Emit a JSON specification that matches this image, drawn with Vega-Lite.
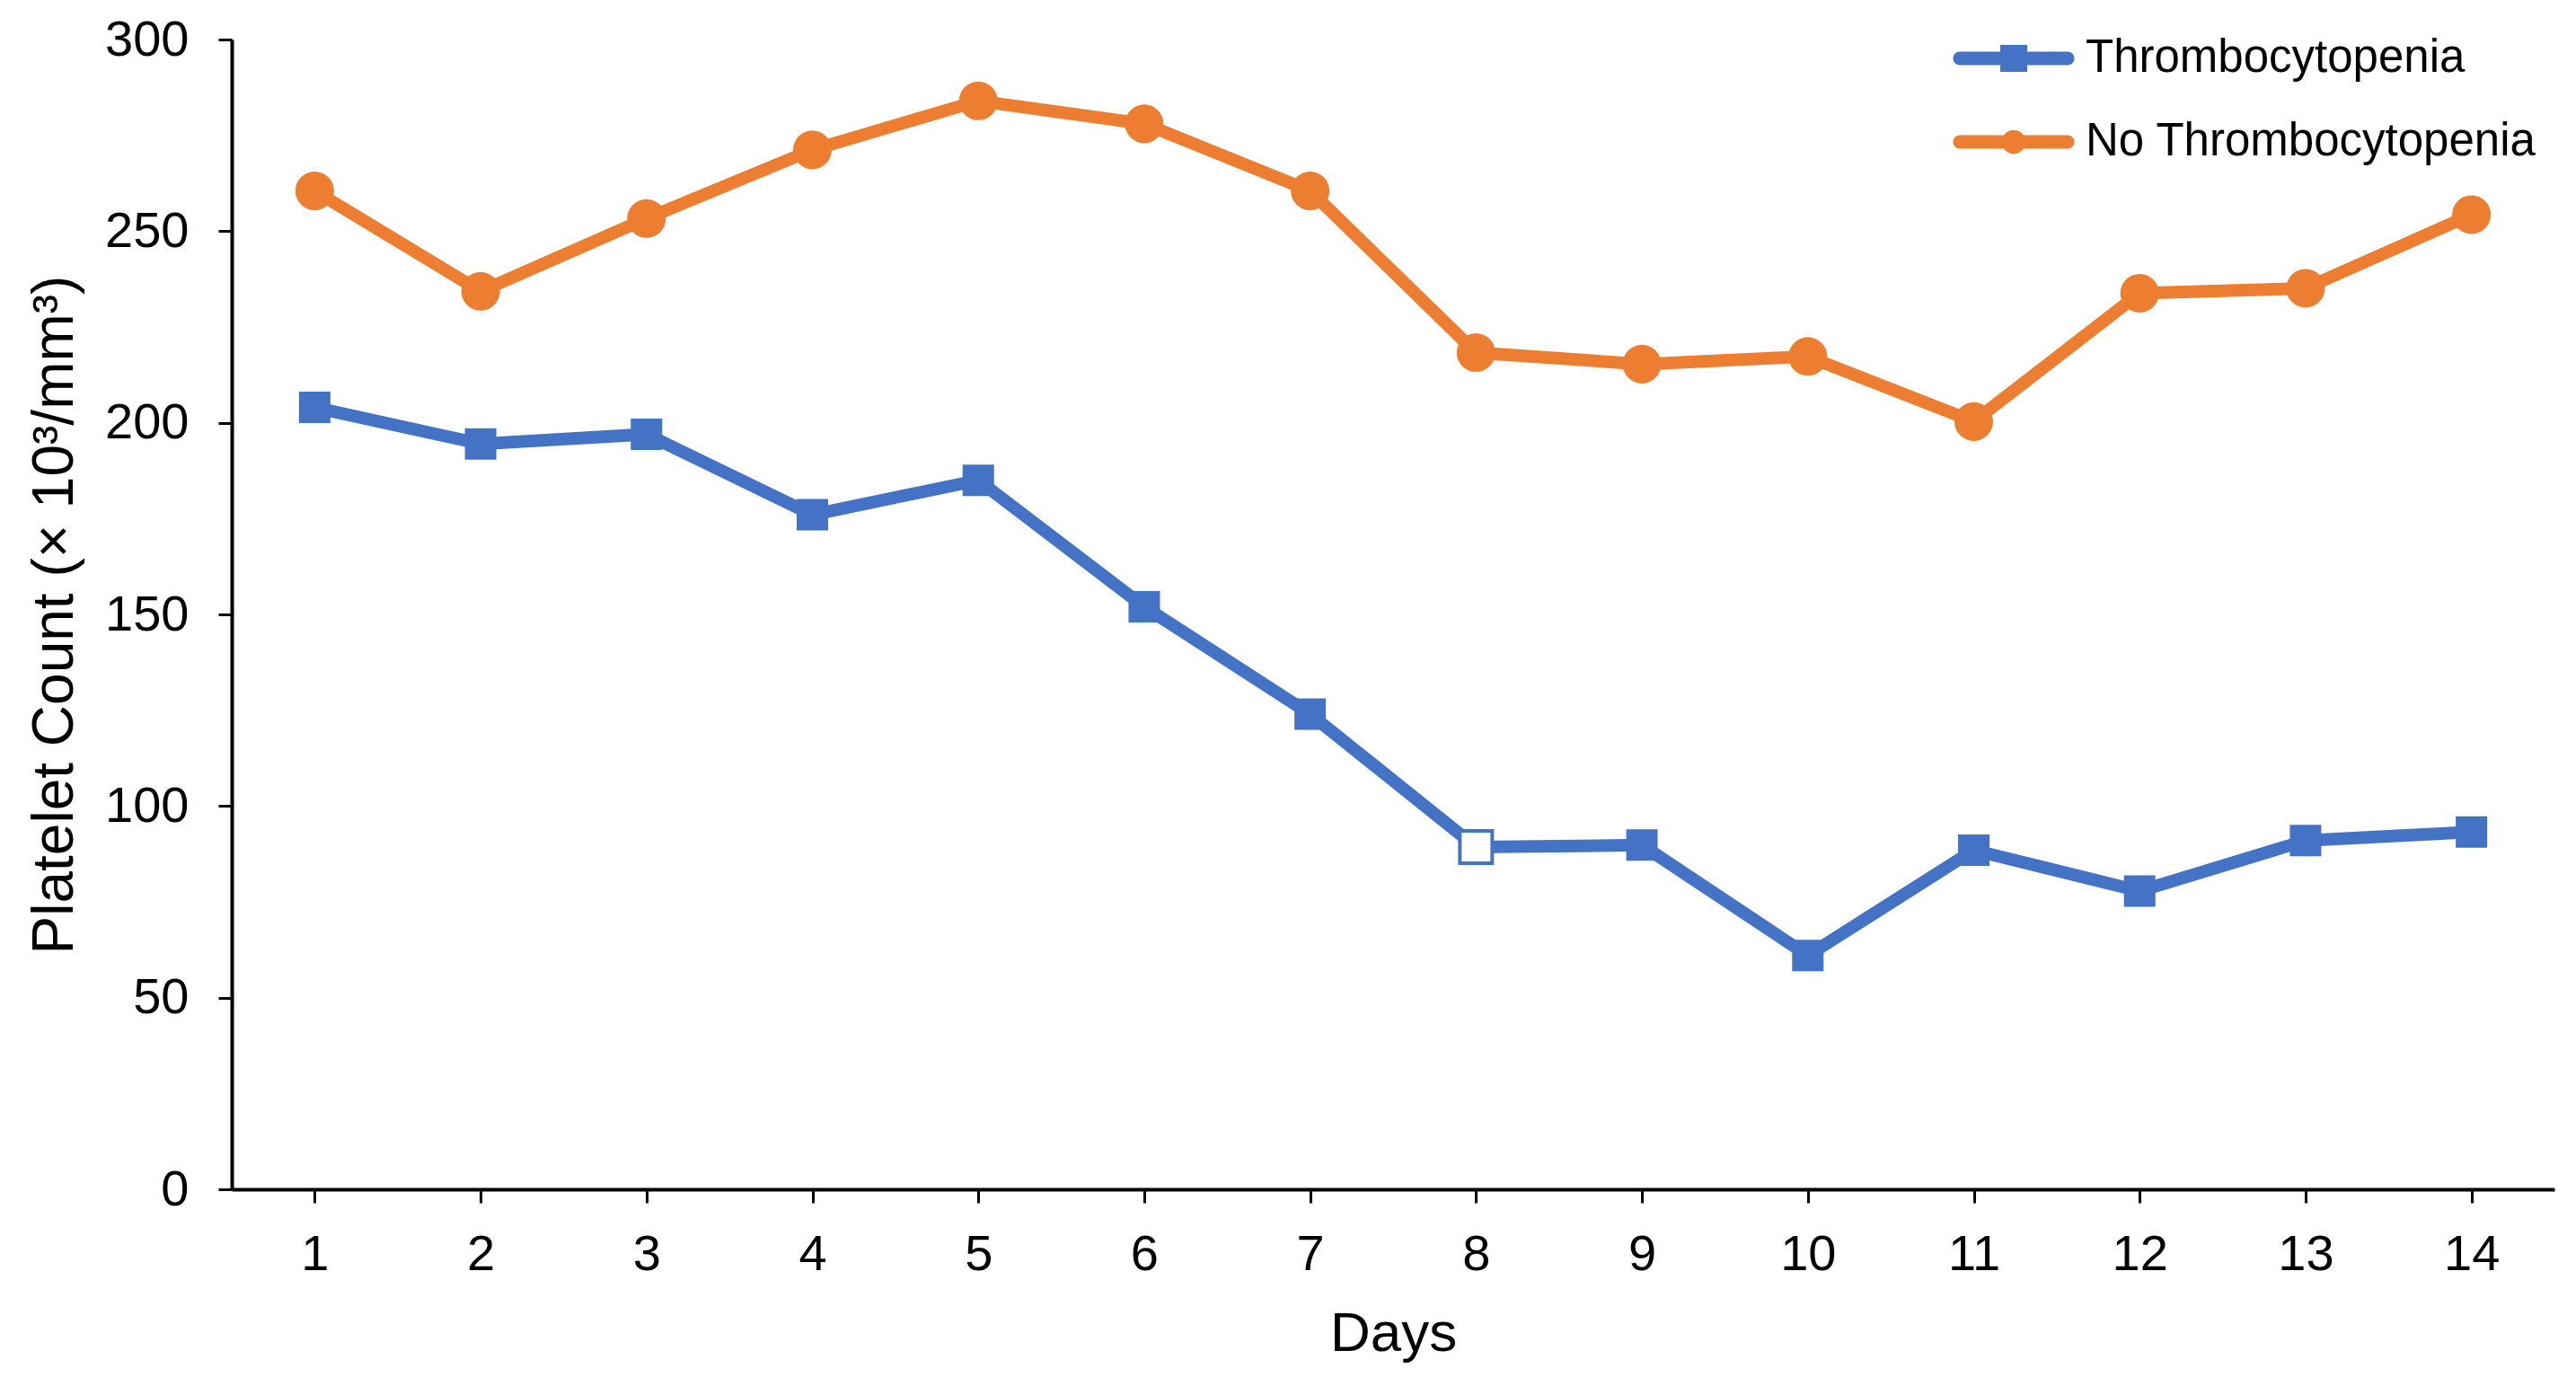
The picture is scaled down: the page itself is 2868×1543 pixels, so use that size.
{
  "$schema": "https://vega.github.io/schema/vega-lite/v6.json",
  "width": 2586,
  "height": 1280,
  "autosize": {"type": "none"},
  "padding": {"left": 258, "top": 44, "right": 24, "bottom": 219},
  "background": "white",
  "config": {
    "view": {"stroke": null},
    "font": "Liberation Sans",
    "axis": {
      "grid": false,
      "domainColor": "black",
      "domainWidth": 4,
      "tickColor": "black",
      "tickWidth": 3,
      "tickSize": 15,
      "labelFont": "Liberation Sans",
      "labelFontSize": 56,
      "labelColor": "black",
      "titleFont": "Liberation Sans",
      "titleFontWeight": "normal",
      "titleColor": "black"
    }
  },
  "data": {
    "values": [
      {"day": 1, "series": "Thrombocytopenia", "count": 204},
      {"day": 2, "series": "Thrombocytopenia", "count": 194.5},
      {"day": 3, "series": "Thrombocytopenia", "count": 197},
      {"day": 4, "series": "Thrombocytopenia", "count": 176},
      {"day": 5, "series": "Thrombocytopenia", "count": 185},
      {"day": 6, "series": "Thrombocytopenia", "count": 152},
      {"day": 7, "series": "Thrombocytopenia", "count": 124},
      {"day": 8, "series": "Thrombocytopenia", "count": 89.3},
      {"day": 9, "series": "Thrombocytopenia", "count": 89.8},
      {"day": 10, "series": "Thrombocytopenia", "count": 61},
      {"day": 11, "series": "Thrombocytopenia", "count": 88.5},
      {"day": 12, "series": "Thrombocytopenia", "count": 77.8},
      {"day": 13, "series": "Thrombocytopenia", "count": 91},
      {"day": 14, "series": "Thrombocytopenia", "count": 93.2},
      {"day": 1, "series": "No Thrombocytopenia", "count": 260.5},
      {"day": 2, "series": "No Thrombocytopenia", "count": 234.3},
      {"day": 3, "series": "No Thrombocytopenia", "count": 253.3},
      {"day": 4, "series": "No Thrombocytopenia", "count": 271.2},
      {"day": 5, "series": "No Thrombocytopenia", "count": 284},
      {"day": 6, "series": "No Thrombocytopenia", "count": 278},
      {"day": 7, "series": "No Thrombocytopenia", "count": 260.5},
      {"day": 8, "series": "No Thrombocytopenia", "count": 218.3},
      {"day": 9, "series": "No Thrombocytopenia", "count": 215.3},
      {"day": 10, "series": "No Thrombocytopenia", "count": 217.3},
      {"day": 11, "series": "No Thrombocytopenia", "count": 200.3},
      {"day": 12, "series": "No Thrombocytopenia", "count": 233.8},
      {"day": 13, "series": "No Thrombocytopenia", "count": 235.1},
      {"day": 14, "series": "No Thrombocytopenia", "count": 254.3}
    ]
  },
  "encoding": {
    "x": {
      "field": "day",
      "type": "ordinal",
      "scale": {"type": "point", "padding": 0.5},
      "axis": {
        "title": "Days",
        "labelAngle": 0,
        "labelBaseline": "alphabetic",
        "labelPadding": 74,
        "titleFontSize": 62,
        "titleX": 1293,
        "titleY": 179,
        "titleBaseline": "alphabetic",
        "titleAlign": "center"
      }
    },
    "y": {
      "field": "count",
      "type": "quantitative",
      "scale": {"domain": [0, 300], "nice": false, "zero": true},
      "axis": {
        "title": "Platelet Count (× 10³/mm³)",
        "values": [0, 50, 100, 150, 200, 250, 300],
        "labelPadding": 33,
        "titleFontSize": 64,
        "titleX": -178,
        "titleY": 640,
        "titleAngle": -90,
        "titleAlign": "center",
        "titleBaseline": "alphabetic"
      }
    },
    "color": {
      "field": "series",
      "type": "nominal",
      "scale": {
        "domain": ["Thrombocytopenia", "No Thrombocytopenia"],
        "range": ["#4472C4", "#ED7D31"]
      },
      "legend": {
        "title": null,
        "orient": "none",
        "legendX": 1954,
        "legendY": -9,
        "padding": 0,
        "symbolSize": 3600,
        "symbolStrokeWidth": 0,
        "labelFont": "Liberation Sans",
        "labelFontSize": 51,
        "labelColor": "black",
        "labelOffset": 50,
        "labelLimit": 1000,
        "rowPadding": 38,
        "encode": {
          "symbols": {
            "update": {
              "shape": {"signal": "datum.value == 'Thrombocytopenia' ? 'M-2,-0.25L2,-0.25A0.25,0.25 0 0,1 2,0.25L-2,0.25A0.25,0.25 0 0,1 -2,-0.25Z M-0.5,-0.5L0.5,-0.5L0.5,0.5L-0.5,0.5Z' : 'M-2,-0.25L2,-0.25A0.25,0.25 0 0,1 2,0.25L-2,0.25A0.25,0.25 0 0,1 -2,-0.25Z M0.44,0A0.44,0.44 0 1,1 -0.44,0A0.44,0.44 0 1,1 0.44,0Z'"},
              "fill": {"signal": "datum.value == 'Thrombocytopenia' ? '#4472C4' : '#ED7D31'"},
              "size": {"value": 3600},
              "strokeWidth": {"value": 0},
              "opacity": {"value": 1},
              "fillOpacity": {"value": 1}
            }
          }
        }
      }
    }
  },
  "layer": [
    {
      "mark": {"type": "line", "strokeWidth": 14}
    },
    {
      "transform": [{"filter": "datum.series == 'Thrombocytopenia'"}],
      "mark": {"type": "point", "filled": true, "opacity": 1, "shape": "square", "size": 1225}
    },
    {
      "transform": [{"filter": "datum.series == 'No Thrombocytopenia'"}],
      "mark": {"type": "point", "filled": true, "opacity": 1, "shape": "circle", "size": 1850}
    },
    {
      "transform": [{"filter": "datum.series == 'Thrombocytopenia' && datum.day == 8"}],
      "mark": {"type": "point", "shape": "square", "size": 1296, "filled": false, "fill": "white", "stroke": "#4472C4", "strokeWidth": 4, "opacity": 1, "fillOpacity": 1},
      "encoding": {
        "color": {"value": "#4472C4"},
        "fill": {"value": "white"}
      }
    }
  ]
}
